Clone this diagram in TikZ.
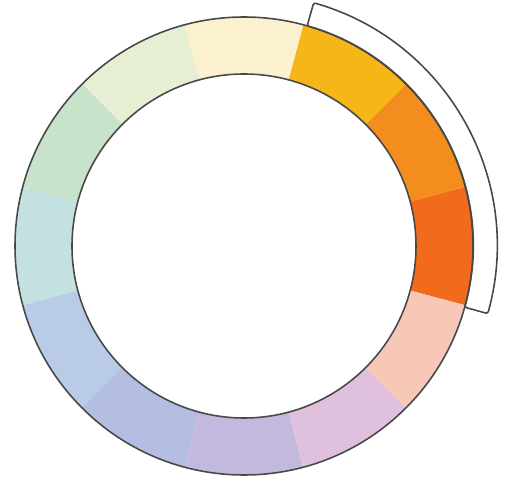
\documentclass[tikz,border=0pt]{standalone}
\usepackage{tikz}
\definecolor{hueA}{HTML}{F26B1C}
\definecolor{hueB}{HTML}{F28D1E}
\definecolor{hueC}{HTML}{F7B617}
\definecolor{hueD}{HTML}{FBF1CF}
\definecolor{hueE}{HTML}{E6EFD3}
\definecolor{hueF}{HTML}{C8E3C9}
\definecolor{hueG}{HTML}{C3E1E1}
\definecolor{hueH}{HTML}{B9CBE6}
\definecolor{hueI}{HTML}{B4BEE2}
\definecolor{hueJ}{HTML}{C3B9DE}
\definecolor{hueK}{HTML}{DFC1DD}
\definecolor{hueL}{HTML}{F7C8B8}
\definecolor{edgegray}{HTML}{484848}

\begin{document}
\begin{tikzpicture}[
  x=0.02cm, y=0.02cm,
  ringline/.style={draw=edgegray, line width=0.9pt},
  bracket/.style={draw=edgegray, line width=0.9pt, rounded corners=1.2pt}
]
\useasboundingbox (0,0) rectangle (505,481);
\begin{scope}[shift={(244,235)}]
% twelve hue segments, centred every 30 degrees
\foreach \ang/\col in {0/hueA, 30/hueB, 60/hueC, 90/hueD, 120/hueE, 150/hueF,
  180/hueG, 210/hueH, 240/hueI, 270/hueJ, 300/hueK, 330/hueL}
  \fill[\col] (\ang-15:172) arc[start angle=\ang-15, end angle=\ang+15, radius=172]
    -- (\ang+15:229) arc[start angle=\ang+15, end angle=\ang-15, radius=229] -- cycle;
\draw[ringline] (0,0) circle[radius=229];
\draw[ringline] (0,0) circle[radius=172];
% outline round the warm group
\draw[bracket] (-15.5:229) arc[start angle=-15.5, end angle=74, radius=229]
  -- (74:253) arc[start angle=74, end angle=-15.5, radius=253] -- cycle;
\end{scope}
\end{tikzpicture}
\end{document}
